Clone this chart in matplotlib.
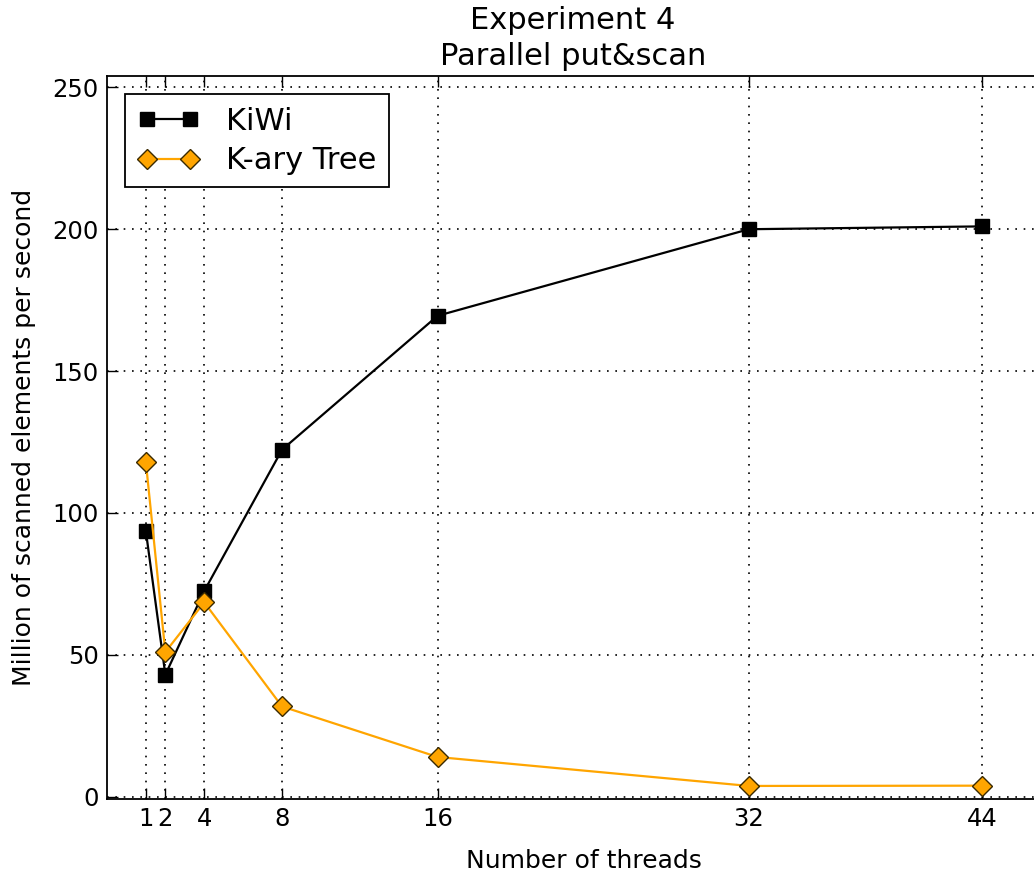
import matplotlib
matplotlib.use("Agg")
import matplotlib.pyplot as plt

threads = [1, 2, 4, 8, 16, 32, 44]
kiwi = [93.5, 43, 72.5, 122.3, 169.5, 200, 201]
kary = [117.8, 51, 68.5, 31.8, 14, 3.8, 3.9]
xticks = [1, 2, 4, 8, 16, 32, 44]
yticks = [0, 50, 100, 150, 200, 250]

fig = plt.figure(figsize=(10.34, 8.73), dpi=100, facecolor="white")
ax = fig.add_axes([107/1034, 74/873, 953/1034, 723/873])

ax.plot(threads, kiwi, color="black", marker="s", markersize=9.5, linewidth=1.6,
        markeredgecolor="black", markerfacecolor="black", label="KiWi")
ax.plot(threads, kary, color="orange", marker="D", markersize=10, linewidth=1.6,
        markeredgecolor="#3a2a00", markerfacecolor="orange", label="K-ary Tree")

ax.set_xlim(-1, 48)
ax.set_ylim(-0.8, 254)
ax.set_xticks(xticks)
ax.set_yticks(yticks)
ax.tick_params(direction="in", top=True, right=True, length=8, width=1,
               labelsize=17.5, pad=6)
ax.grid(True, color="black", linestyle=(0, (1, 4)), linewidth=1.2)
for s in ax.spines.values():
    s.set_linewidth(1.3)

ax.set_xlabel("Number of threads", fontsize=18, labelpad=13)
ax.set_ylabel("Million of scanned elements per second", fontsize=18, labelpad=12)
ax.set_title("Experiment 4\nParallel put&scan", fontsize=22, x=(573-107)/953,
             pad=8, linespacing=1.3)

leg = ax.legend(loc="upper left", fontsize=22, numpoints=2, fancybox=False,
                framealpha=1, borderaxespad=0.6, handlelength=2.0,
                borderpad=0.4, labelspacing=0.35, handletextpad=0.9)
leg.get_frame().set_edgecolor("black")
leg.get_frame().set_linewidth(1.3)

fig.savefig("out.png", dpi=100, facecolor="white")
